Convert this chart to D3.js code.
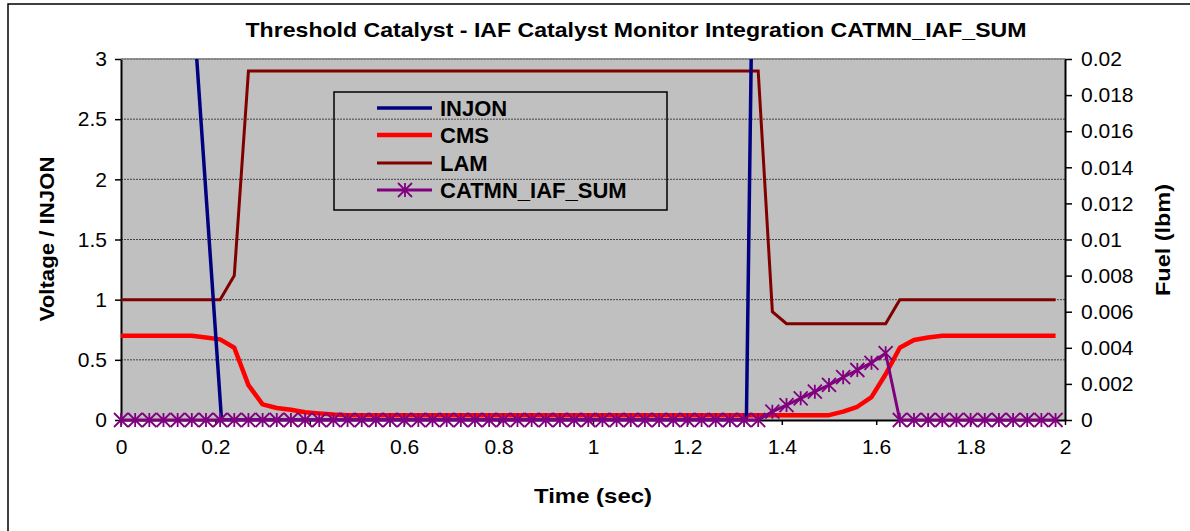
<!DOCTYPE html>
<html>
<head>
<meta charset="utf-8">
<script src="https://cdn.jsdelivr.net/npm/d3@7"></script>
<style>
  body { margin: 0; background: #ffffff; }
  text { font-family: "Liberation Sans", Arial, sans-serif; }
</style>
</head>
<body>
<svg id="chart"></svg>
<script>
/*
		 DATA
		 time grid is 0.03 s, INJON has its own few points
*/
var timeSec = [
  0, 0.03, 0.06, 0.09, 0.12, 0.15, 0.18, 0.21, 0.24, 0.27,
  0.30, 0.33, 0.36, 0.39, 0.42, 0.45, 0.48, 0.51, 0.54, 0.57,
  0.60, 0.63, 0.66, 0.69, 0.72, 0.75, 0.78, 0.81, 0.84, 0.87,
  0.90, 0.93, 0.96, 0.99, 1.02, 1.05, 1.08, 1.11, 1.14, 1.17,
  1.20, 1.23, 1.26, 1.29, 1.32, 1.35, 1.38, 1.41, 1.44, 1.47,
  1.50, 1.53, 1.56, 1.59, 1.62, 1.65, 1.68, 1.71, 1.74, 1.77,
  1.80, 1.83, 1.86, 1.89, 1.92, 1.95, 1.98
];

var cms = [
  0.7, 0.7, 0.7, 0.7, 0.7, 0.7, 0.685, 0.67, 0.6, 0.29,
  0.13, 0.1, 0.085, 0.065, 0.055, 0.045, 0.04, 0.04, 0.04, 0.04,
  0.04, 0.04, 0.04, 0.04, 0.04, 0.04, 0.04, 0.04, 0.04, 0.04,
  0.04, 0.04, 0.04, 0.04, 0.04, 0.04, 0.04, 0.04, 0.04, 0.04,
  0.04, 0.04, 0.04, 0.04, 0.04, 0.04, 0.04, 0.04, 0.04, 0.04,
  0.04, 0.07, 0.11, 0.19, 0.38, 0.6, 0.665, 0.685, 0.7, 0.7,
  0.7, 0.7, 0.7, 0.7, 0.7, 0.7, 0.7
];

var lam = [
  1, 1, 1, 1, 1, 1, 1, 1, 1.2, 2.9,
  2.9, 2.9, 2.9, 2.9, 2.9, 2.9, 2.9, 2.9, 2.9, 2.9,
  2.9, 2.9, 2.9, 2.9, 2.9, 2.9, 2.9, 2.9, 2.9, 2.9,
  2.9, 2.9, 2.9, 2.9, 2.9, 2.9, 2.9, 2.9, 2.9, 2.9,
  2.9, 2.9, 2.9, 2.9, 2.9, 2.9, 0.9, 0.8, 0.8, 0.8,
  0.8, 0.8, 0.8, 0.8, 0.8, 1, 1, 1, 1, 1,
  1, 1, 1, 1, 1, 1, 1
];

var catmnSum = [
  0, 0, 0, 0, 0, 0, 0, 0, 0, 0,
  0, 0, 0, 0, 0, 0, 0, 0, 0, 0,
  0, 0, 0, 0, 0, 0, 0, 0, 0, 0,
  0, 0, 0, 0, 0, 0, 0, 0, 0, 0,
  0, 0, 0, 0, 0, 0, 0.00046, 0.00083, 0.0012, 0.00157,
  0.00194, 0.00237, 0.00277, 0.00317, 0.0037, 0, 0, 0, 0, 0,
  0, 0, 0, 0, 0, 0, 0
];

var injonTime = [0, 0.15, 0.213, 1.325, 1.35, 1.98];
var injon = [3.6, 3.6, 0, 0, 7.4, 7.4];

var xTicks = [0, 0.2, 0.4, 0.6, 0.8, 1, 1.2, 1.4, 1.6, 1.8, 2];
var leftTicks = [0, 0.5, 1, 1.5, 2, 2.5, 3];
var rightTicks = [0, 0.002, 0.004, 0.006, 0.008, 0.01, 0.012, 0.014, 0.016, 0.018, 0.02];

var legendNames = ["INJON", "CMS", "LAM", "CATMN_IAF_SUM"];
var legendColors = ["#000080", "#ff0000", "#800000", "#800080"];

/*
		 LAYOUT
*/
var width = 1190;
var height = 531;
var plot = {left: 121, right: 1065, top: 59, bottom: 420};

var svg = d3.select("#chart")
  .attr("width", width)
  .attr("height", height);

svg.append("rect")
  .attr("width", width).attr("height", height)
  .attr("fill", "#ffffff");

// chart frame (right and bottom edges run off the picture)
svg.append("rect")
  .attr("x", 8).attr("y", 4)
  .attr("width", 1200).attr("height", 540)
  .attr("fill", "none")
  .attr("stroke", "#000").attr("stroke-width", 1.5);

/*
		 SCALES
*/
var x = d3.scaleLinear().domain([0, 2]).range([plot.left, plot.right]);
var yLeft = d3.scaleLinear().domain([0, 3]).range([plot.bottom, plot.top]);
var yRight = d3.scaleLinear().domain([0, 0.02]).range([plot.bottom, plot.top]);

// plot background
svg.append("rect")
  .attr("x", plot.left).attr("y", plot.top)
  .attr("width", plot.right - plot.left)
  .attr("height", plot.bottom - plot.top)
  .attr("fill", "#c0c0c0");

svg.append("clipPath").attr("id", "plotclip")
  .append("rect")
  .attr("x", plot.left).attr("y", plot.top)
  .attr("width", plot.right - plot.left)
  .attr("height", plot.bottom - plot.top);

// gridlines
svg.append("g")
  .selectAll("line")
  .data(leftTicks.filter(function(d) { return d > 0; }))
  .enter().append("line")
  .attr("x1", plot.left).attr("x2", plot.right)
  .attr("y1", function(d) { return yLeft(d); })
  .attr("y2", function(d) { return yLeft(d); })
  .attr("stroke", "#444")
  .attr("stroke-width", 1)
  .attr("stroke-dasharray", "2,1");

/*
		 AXES
*/
function styleAxis(g) {
  g.select(".domain").attr("stroke", "#000").attr("stroke-width", 2);
  g.selectAll(".tick line").attr("stroke", "#000").attr("stroke-width", 1.5);
  g.selectAll(".tick text")
    .attr("fill", "#000")
    .style("font-size", "21px");
}

var xAxis = svg.append("g")
  .attr("transform", "translate(0," + plot.bottom + ")")
  .call(d3.axisBottom(x).tickValues(xTicks).tickSize(5).tickSizeOuter(0).tickPadding(14)
    .tickFormat(function(d) { return String(d); }))
  .call(styleAxis);

var leftAxis = svg.append("g")
  .attr("transform", "translate(" + plot.left + ",0)")
  .call(d3.axisLeft(yLeft).tickValues(leftTicks).tickSize(6).tickSizeOuter(0).tickPadding(8)
    .tickFormat(function(d) { return String(d); }))
  .call(styleAxis);

var rightAxis = svg.append("g")
  .attr("transform", "translate(" + plot.right + ",0)")
  .call(d3.axisRight(yRight).tickValues(rightTicks).tickSize(7).tickSizeOuter(0).tickPadding(9)
    .tickFormat(function(d) { return String(+d.toFixed(3)); }))
  .call(styleAxis);

// top edge of plot area
svg.append("line")
  .attr("x1", plot.left).attr("x2", plot.right)
  .attr("y1", plot.top).attr("y2", plot.top)
  .attr("stroke", "#808080").attr("stroke-width", 1.5);

/*
		 SERIES
*/
var series = svg.append("g").attr("clip-path", "url(#plotclip)");

var leftLine = d3.line()
  .x(function(d) { return x(d[0]); })
  .y(function(d) { return yLeft(d[1]); });

var rightLine = d3.line()
  .x(function(d) { return x(d[0]); })
  .y(function(d) { return yRight(d[1]); });

function pairs(t, v) { return t.map(function(d, i) { return [d, v[i]]; }); }

series.append("path")
  .datum(pairs(timeSec, cms))
  .attr("d", leftLine)
  .attr("fill", "none").attr("stroke", "#ff0000")
  .attr("stroke-width", 4.5).attr("stroke-linejoin", "round");

series.append("path")
  .datum(pairs(timeSec, lam))
  .attr("d", leftLine)
  .attr("fill", "none").attr("stroke", "#800000")
  .attr("stroke-width", 3);

series.append("path")
  .datum(pairs(injonTime, injon))
  .attr("d", leftLine)
  .attr("fill", "none").attr("stroke", "#000080")
  .attr("stroke-width", 3.5);

var catPts = pairs(timeSec, catmnSum);

svg.append("path")
  .datum(catPts)
  .attr("d", rightLine)
  .attr("fill", "none").attr("stroke", "#800080")
  .attr("stroke-width", 3);

// asterisk marker
function asterisk(cx, cy, r) {
  return "M" + (cx - r) + "," + (cy - r) + "L" + (cx + r) + "," + (cy + r) +
         "M" + (cx - r) + "," + (cy + r) + "L" + (cx + r) + "," + (cy - r) +
         "M" + cx + "," + (cy - r) + "L" + cx + "," + (cy + r);
}

svg.append("g")
  .selectAll("path")
  .data(catPts)
  .enter().append("path")
  .attr("d", function(d) { return asterisk(x(d[0]), yRight(d[1]), 7); })
  .attr("stroke", "#800080")
  .attr("stroke-width", 1.8)
  .attr("fill", "none");

/*
		 LEGEND
*/
var legend = svg.append("g");

legend.append("rect")
  .attr("x", 334).attr("y", 92)
  .attr("width", 333).attr("height", 118)
  .attr("fill", "none")
  .attr("stroke", "#000").attr("stroke-width", 1.5);

var rowY = [108, 135, 163, 190];
var rowWidth = [3.5, 4.5, 3, 3];

legendNames.forEach(function(name, i) {
  legend.append("line")
    .attr("x1", 377).attr("x2", 432)
    .attr("y1", rowY[i]).attr("y2", rowY[i])
    .attr("stroke", legendColors[i])
    .attr("stroke-width", rowWidth[i]);
  if (i === 3) {
    legend.append("path")
      .attr("d", asterisk(405, rowY[i], 7))
      .attr("stroke", legendColors[i]).attr("stroke-width", 1.8);
  }
  legend.append("text")
    .attr("x", 440).attr("y", rowY[i] + 7.5)
    .style("font-size", "22px").style("font-weight", "bold")
    .text(name);
});

/*
		 TITLES
*/
svg.append("text")
  .attr("x", 636).attr("y", 37)
  .attr("text-anchor", "middle")
  .attr("textLength", 781).attr("lengthAdjust", "spacingAndGlyphs")
  .style("font-size", "21px").style("font-weight", "bold")
  .text("Threshold Catalyst - IAF Catalyst Monitor Integration CATMN_IAF_SUM");

svg.append("text")
  .attr("x", 593).attr("y", 503)
  .attr("text-anchor", "middle")
  .attr("textLength", 118).attr("lengthAdjust", "spacingAndGlyphs")
  .style("font-size", "21px").style("font-weight", "bold")
  .text("Time (sec)");

svg.append("text")
  .attr("transform", "translate(54,239) rotate(-90)")
  .attr("text-anchor", "middle")
  .attr("textLength", 165).attr("lengthAdjust", "spacingAndGlyphs")
  .style("font-size", "21px").style("font-weight", "bold")
  .text("Voltage / INJON");

svg.append("text")
  .attr("transform", "translate(1170,240) rotate(-90)")
  .attr("text-anchor", "middle")
  .attr("textLength", 112).attr("lengthAdjust", "spacingAndGlyphs")
  .style("font-size", "21px").style("font-weight", "bold")
  .text("Fuel (lbm)");

console.log("chart drawn");
</script>
</body>
</html>
